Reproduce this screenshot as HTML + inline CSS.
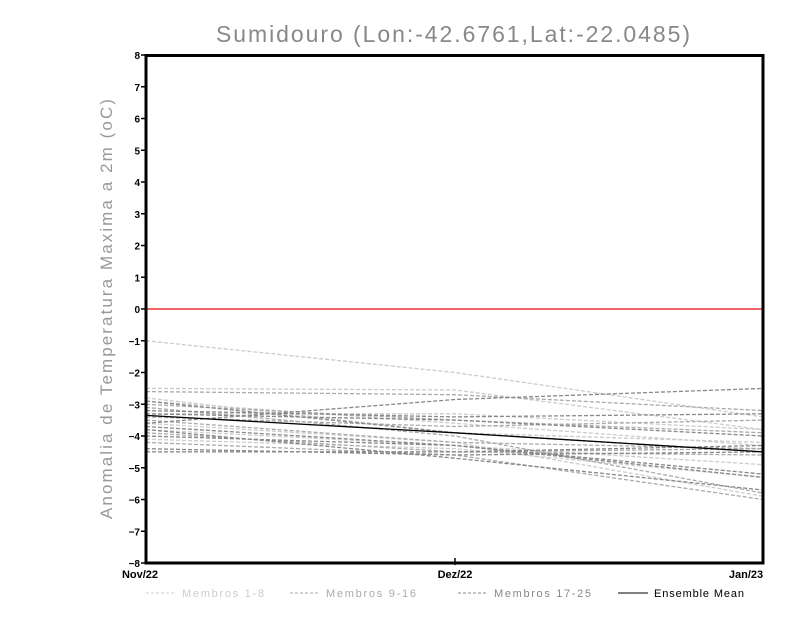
<!DOCTYPE html>
<html><head><meta charset="utf-8"><style>
html,body{margin:0;padding:0;background:#fff;}
svg{display:block;}
</style></head><body>
<svg id="s" width="800" height="618" xmlns="http://www.w3.org/2000/svg" font-family="Liberation Sans, sans-serif">
<rect width="800" height="618" fill="#fff"/>
<text x="454" y="42" text-anchor="middle" font-size="23" fill="#888" letter-spacing="2" textLength="476" lengthAdjust="spacing">Sumidouro (Lon:-42.6761,Lat:-22.0485)</text>
<text transform="translate(112,309) rotate(-90)" text-anchor="middle" font-size="17" fill="#999" textLength="420" lengthAdjust="spacing">Anomalia de Temperatura Maxima a 2m (oC)</text>
<g id="lines"></g>
<line x1="146" y1="309" x2="763" y2="309" stroke="#f03030" stroke-width="1.5"/>
<rect x="146" y="55.5" width="617" height="507.5" fill="none" stroke="#000" stroke-width="3"/>
<g id="ticks" font-size="10" font-weight="bold" fill="#000"></g>
<text x="140" y="578" text-anchor="middle" font-size="11" font-weight="bold">Nov/22</text>
<text x="455" y="578" text-anchor="middle" font-size="11" font-weight="bold">Dez/22</text>
<text x="746" y="578" text-anchor="middle" font-size="11" font-weight="bold">Jan/23</text>
<line x1="146" y1="593" x2="176" y2="593" stroke="#ccc" stroke-dasharray="3,2"/>
<text x="182" y="597" font-size="11" fill="#ccc" textLength="82" lengthAdjust="spacing">Membros 1-8</text>
<line x1="290" y1="593" x2="320" y2="593" stroke="#aaa" stroke-dasharray="3,2"/>
<text x="326" y="597" font-size="11" fill="#aaa" textLength="90" lengthAdjust="spacing">Membros 9-16</text>
<line x1="458" y1="593" x2="488" y2="593" stroke="#888" stroke-dasharray="3,2"/>
<text x="494" y="597" font-size="11" fill="#888" textLength="97" lengthAdjust="spacing">Membros 17-25</text>
<line x1="618" y1="593" x2="648" y2="593" stroke="#000"/>
<text x="654" y="597" font-size="11" fill="#000" textLength="90" lengthAdjust="spacing">Ensemble Mean</text>
</svg>
<script>
var Y=function(v){return 309-v*31.75;};
var X=[146,455,763];
var L=[[-1,-2,-3.4],[-2.5,-2.55,-3.8],[-2.9,-3.6,-4.3],[-3.6,-4.2,-5.9],[-4.1,-4.4,-5.3],[-3.3,-3.3,-3.8],[-3.8,-4.3,-4.9],[-2.8,-3.9,-4.2]];
var M=[[-2.6,-2.7,-3.2],[-3.1,-4.0,-5.8],[-3.5,-4.2,-4.4],[-3.9,-4.5,-4.6],[-4.2,-4.6,-6.0],[-3.4,-3.7,-3.5],[-4.5,-4.5,-4.4],[-3.0,-3.5,-3.9]];
var D=[[-3.6,-2.85,-2.5],[-4.4,-4.6,-4.5],[-4.5,-4.5,-4.3],[-3.2,-3.4,-3.3],[-3.7,-4.3,-5.3],[-2.9,-3.9,-4.5],[-4.0,-4.3,-5.2],[-3.3,-3.5,-4.0],[-3.8,-4.7,-5.7]];
var g=document.getElementById('lines'),h='';
function add(a,c,d){a.forEach(function(v){h+='<polyline fill="none" stroke="'+c+'" stroke-width="1.3" '+(d?'stroke-dasharray="4,2"':'')+' points="'+X.map(function(x,i){return x+','+Y(v[i]).toFixed(1)}).join(' ')+'"/>';});}
add(L,'#ccc',1);add(M,'#aaa',1);add(D,'#888',1);add([[-3.35,-3.9,-4.5]],'#000',0);
g.innerHTML=h;
var t='',tk=document.getElementById('ticks');
for(var v=8;v>=-8;v--){var y=Y(v);t+='<line x1="141" y1="'+y+'" x2="146" y2="'+y+'" stroke="#000" stroke-width="1.5"/><text x="140" y="'+(y+4)+'" text-anchor="end">'+(v<0?'\u2212'+(-v):v)+'</text>';}
t+='<line x1="455" y1="558" x2="455" y2="565" stroke="#000" stroke-width="1.5"/>';
tk.innerHTML=t;
</script>
</body></html>
